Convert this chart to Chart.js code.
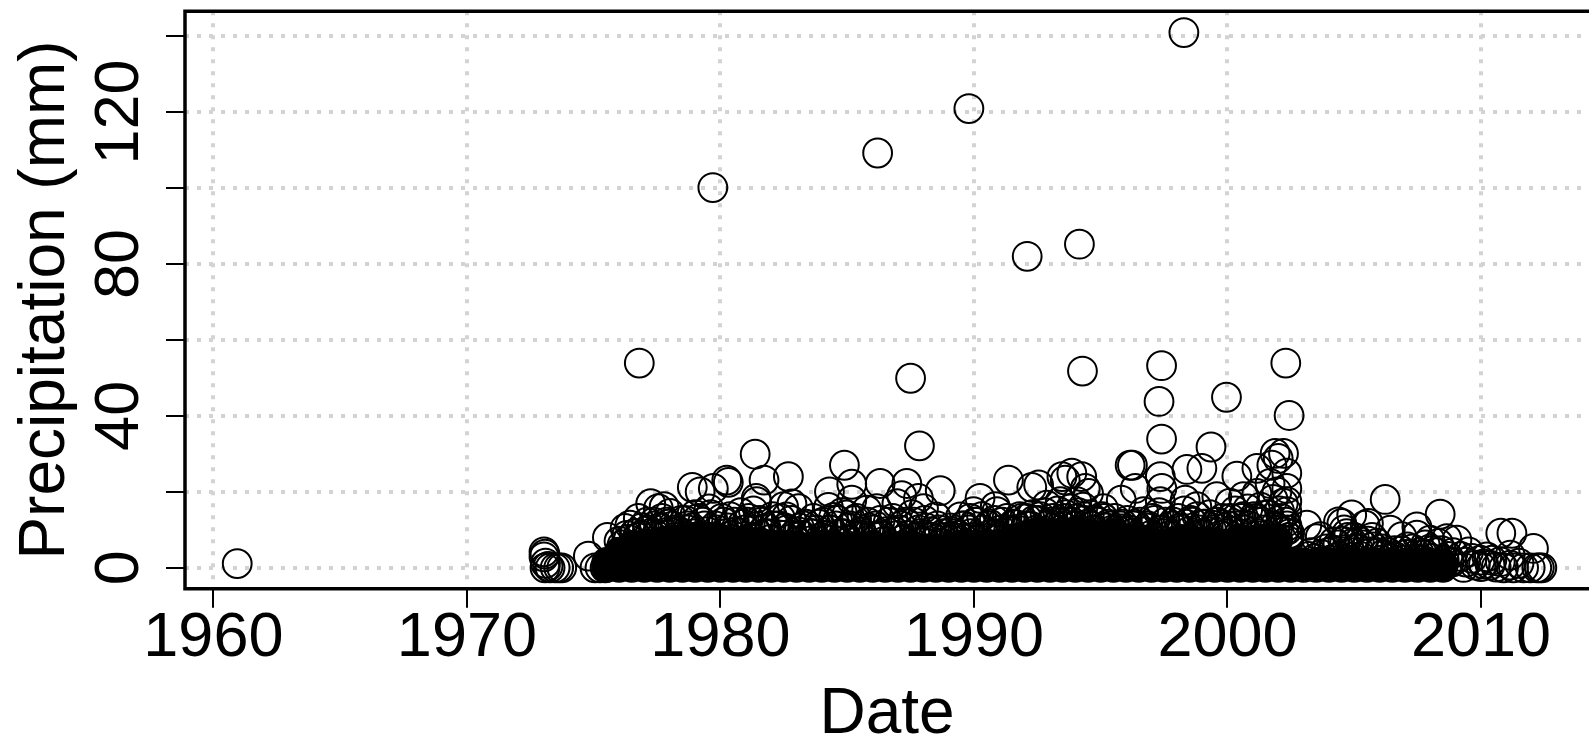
<!DOCTYPE html>
<html>
<head>
<meta charset="utf-8">
<title>Precipitation</title>
<script src="https://cdn.jsdelivr.net/npm/chart.js@4"></script>
<style>
html,body{margin:0;padding:0;background:#fff;overflow:hidden}
canvas{display:block}
</style>
</head>
<body>
<canvas id="precipChart" width="1589" height="738"></canvas>
<script>
// readable circles (same count per line in both arrays)
const pointDates = [
1960.94,1976.8,1979.7,1986.2,1989.8,1998.28,1992.1,1994.16,1994.28,1987.5,
1987.85,1997.4,1997.3,1997.4,1999.96,2002.3,2002.43,1981.37,1999.35,2003.13,
1973.04,1973.08,1973.04,1973.08,1973.28,1973.48,1973.62,1973.74,1973.1,1973.2,
1974.79,1975.05,1975.25,1975.45,1975.54,1976.24,1976.43,1976.76,1977.25,1977.78,
1977.55,1978.01,1978.89,1979.2,1979.72,1980.25,1980.31,1981.72,1982.68,1981.41,
1981.43,1982.82,1982.49,1983.08,1984.89,1984.3,1985.18,1985.18,1984.26,1984.46,
1986.3,1987.35,1987.15,1987.81,1988.67,1986.96,1988.01,1986.17,1985.77,1990.24,
1991.36,1992.28,1992.55,1989.98,1990.84,1990.9,1989.46,1992.09,1988.5,1989.85,
1983.67,1982.6,1984.98,1993.47,1993.86,1994.25,1993.6,1994.52,1994.39,1993.4,
1995.11,1995.81,1996.16,1996.25,1996.36,1997.35,1997.41,1997.35,1996.69,1998.4,
1998.99,1998.33,1999.58,2000.37,2001.16,2001.88,2002.21,2002,2001.75,2002.34,
2002.34,2002.34,2002.34,2001.68,2000.63,2000.1,1998.79,2001.16,1992.87,1994.06,
2006.22,2008.39,2004.9,2004.38,2004.51,2005.56,2005.43,2006.42,2007.47,2007.47,
2009.05,2008.32,2012.07,2010.78,2011.22,2009.51,2010.23,2009.97,2010.36,2009.31,
2009.77,2011.15,2010.76,2012.2,2012.3,2012.4,2011.94,2011.68,2011.28,2010.89,
2011.15,2003.66,2003.5,2006.88,2008.65,2007.99,2010.43,2004.7,2005,2005.9,
2003.3,2003.9,2004.2,2004.6,2005.2,2005.7,2006.1,2006.6,2007.1,2007.8,
2008.1,2008.9,2009.2,2008.75,2009.4,2009.65,2010,2010.1,2010.6,2011.5,
1976,1976.3,1976.6,1976.9,1977.1,1977.4,1977.7,1977.95,1978.2,1978.45,
1978.7,1979,1979.3,1979.55,1979.8,1980.05,1980.3,1980.55,1980.8,1981.05,
1981.3,1981.55,1981.8,1982.05,1982.3,1982.55,1982.8,1983.05,1983.3,1983.55,
1983.8,1984.05,1984.3,1984.55,1984.8,1985.05,1985.3,1985.55,1985.8,1986.05,
1986.3,1986.55,1986.8,1987.05,1987.3,1987.55,1987.8,1988.05,1988.3,1988.55,
1988.8,1989.05,1989.3,1989.55,1989.8,1990.05,1990.3,1990.55,1990.8,1991.05,
1991.3,1991.55,1991.8,1992.05,1992.3,1992.55,1992.8,1993.05,1993.3,1993.55,
1993.8,1994.05,1994.3,1994.55,1994.8,1995.05,1995.3,1995.55,1995.8,1996.05,
1996.3,1996.55,1996.8,1997.05,1997.3,1997.55,1997.8,1998.05,1998.3,1998.55,
1998.8,1999.05,1999.3,1999.55,1999.8,2000.05,2000.3,2000.55,2000.8,2001.05,
2001.3,2001.55,2001.8,2002.05,2002.3,2002.45,2002.4,2002.35,2002.2,2001.95,
1976.12,1976.37,1976.62,1976.87,1977.12,1977.37,1977.62,1977.87,1978.12,1978.37,
1978.62,1978.87,1979.12,1979.37,1979.62,1979.87,1980.12,1980.37,1980.62,1980.87,
1981.12,1981.37,1981.62,1981.87,1982.12,1982.37,1982.62,1982.87,1983.12,1983.37,
1983.62,1983.87,1984.12,1984.37,1984.62,1984.87,1985.12,1985.37,1985.62,1985.87,
1986.12,1986.37,1986.62,1986.87,1987.12,1987.37,1987.62,1987.87,1988.12,1988.37,
1988.62,1988.87,1989.12,1989.37,1989.62,1989.87,1990.12,1990.37,1990.62,1990.87,
1991.12,1991.37,1991.62,1991.87,1992.12,1992.37,1992.62,1992.87,1993.12,1993.37,
1993.62,1993.87,1994.12,1994.37,1994.62,1994.87,1995.12,1995.37,1995.62,1995.87,
1996.12,1996.37,1996.62,1996.87,1997.12,1997.37,1997.62,1997.87,1998.12,1998.37,
1998.62,1998.87,1999.12,1999.37,1999.62,1999.87,2000.12,2000.37,2000.62,2000.87,
2001.12,2001.37,2001.62,2001.87,2002.12,2002.37,
1976.72,1977.22,1977.47,1977.97,1978.22,1978.72,1978.97,1979.47,1979.72,1980.22,
1980.47,1980.97,1981.22,1981.72,1981.97,1982.47,1982.72,1983.22,1983.47,1983.97,
1984.22,1984.72,1984.97,1985.47,1985.72,1986.22,1986.47,1986.97,1987.22,1987.72,
1987.97,1988.47,1988.72,1989.22,1989.47,1989.97,1990.22,1990.72,1990.97,1991.47,
1991.72,1992.22,1992.47,1992.97,1993.22,1993.72,1993.97,1994.47,1994.72,1995.22,
1995.47,1995.97,1996.22,1996.72,1996.97,1997.47,1997.72,1998.22,1998.47,1998.97,
1999.22,1999.72,1999.97,2000.47,2000.72,2001.22,2001.47,2001.97,2002.22,2002.42,
2003.2,2003.45,2003.7,2003.95,2004.15,2004.35,2004.55,2004.75,2004.95,2005.15,
2005.35,2005.55,2005.75,2005.95,2006.15,2006.35,2006.6,2006.85,2007.05,2007.3,
2007.55,2007.8,2008,2008.2,2008.45,2008.7,2003.6,2004.05,2004.45,2004.85,
2005.25,2005.65,2006.05,2006.45,2006.95,2007.4,2007.7,2008.05,2008.55,2008.85
];
const pointPrecip = [
1.1,53.9,100.1,109.2,120.9,140.9,82,85.2,51.8,49.9,
32.1,53.2,43.8,33.9,44.9,53.9,40.1,29.9,31.8,11.2,
4.2,3.6,2.9,0,0,0,0,0,1.2,0.4,
3.1,0,0,0,8,10.4,11.2,13,16.9,16.1,
15.6,14.3,21.2,20,20.9,23.1,22.5,23.1,24,18.3,
17.4,16.8,16.1,15.6,27,20,22,17.8,15.9,13.3,
22.2,22.2,19,18.3,20.3,16.9,15.6,15.6,15.2,18.3,
23.1,21.2,21.8,14.8,16.1,14.8,13.4,13,13.4,13,
13,13.4,13.9,24,24.9,24,23.1,19.6,20.9,17.4,
15.6,17.8,27,27,20.9,24,20.9,17.4,14.8,25.9,
26.2,17.8,18.7,24.1,26.2,30.1,30.1,28.8,27,24.9,
20.9,17.4,14.8,22.2,18.7,17,16.1,19.6,16.5,17.4,
18,14.1,13.9,12.1,11.7,11.7,11.2,9.9,10.8,8.6,
7.3,6.4,5.1,9.1,9.1,4.2,2.9,2,0.7,0.1,
0.7,0.7,1.6,0,0,0,0,0,0,0,
3.3,8.2,7.7,8.2,7.7,7.3,2,9,8,6.5,
4,5,6.8,10,7,8,5,4.5,5.5,6,
4.5,4,3,1.5,1.5,2.5,0.3,1,0.2,1.2,
7,8.5,9,10.5,12,11,13,11.5,10,12.5,
11,14,12,15.5,11,13,10.5,12,14.5,12,
15,12.5,10.5,13.5,11,10.5,12.5,9.5,11,9,
10,12,10,11,14.5,10.5,12.5,9.5,12,10,
12.5,9.5,13,10,12,14,10,12.5,9.5,11,
9,10.5,9,11,10,12,13.5,11,12.5,10,
13,11.5,13.5,11,14,12.5,14.5,12,15,13,
15.5,13,16,14,12.5,13.5,11.5,13,11,12.5,
11,12,10.5,13,14.5,12,11,13,15,12.5,
13.5,11.5,14,12,13,11,15,13,15.5,13.5,
16,14,18,15,12,9,7,11,17,20,
6,7.5,9,8.5,10,12,10.5,12,11,9.5,
12.5,10.5,13,11,14,10,12,13.5,9.5,11.5,
13,10,12,9,11,13,10,8.5,10.5,11.5,
9,11.5,8.5,10,12.5,9,11,13,8.5,10.5,
11,8.5,12,9.5,11,8.5,12,9,10.5,8,
10,8,9.5,8.5,11,9,12,10,11.5,9,
12,10,11.5,13,11,12.5,13.5,11,13,12,
14,12,14.5,12.5,11,12,13,11,10,11.5,
10,11.5,9.5,11,12.5,10,9.5,12,10.5,11.5,
12,10,11.5,10,12,10.5,13,11,13.5,11,
13,12,14,11,13,10,
8,9,8.5,9.5,8,10,9,9.5,8,9,
8.5,10,8,9,7.5,8.5,7.5,8.5,7,8,
7.5,9,7.5,8.5,7,8,7,8.5,7.5,8,
7,7.5,6.5,8,7,8,7.5,9,8,9.5,
10,11,10,11.5,11,12,11,11.5,10,10.5,
10,9.5,9,9.5,8.5,9,8.5,10,9.5,9,
9.5,8.5,9,9,10,9,10,10,9.5,8,
3,2.5,3.5,4,4.5,6,7,8,6.5,5,
6,7,5.5,4,3.5,4,3,4.5,3.5,5,
4,3.5,5,4,4.5,3,1.5,2,3,4,
3,4,2,2.5,2,2.5,2,2.5,2,1.5
];

// the solid black part, where the circles can no longer be told apart
const massDates = [
1975.5,1976,1976.5,1977,1977.5,1978,1978.5,1979,1979.5,1980,
1980.5,1981,1981.5,1982,1982.5,1983,1983.5,1984,1984.5,1985,
1985.5,1986,1986.5,1987,1987.5,1988,1988.5,1989,1989.5,1990,
1990.5,1991,1991.5,1992,1992.5,1993,1993.5,1994,1994.5,1995,
1995.5,1996,1996.5,1997,1997.5,1998,1998.5,1999,1999.5,2000,
2000.5,2001,2001.5,2002,2002.5,2003,2003.5,2004,2004.5,2005,
2005.5,2006,2006.5,2007,2007.5,2008,2008.5
];
const massTop = [
1.5,4.2,6,6.4,6.8,7.3,7.7,8.2,8.2,7.7,
6.8,7.3,6.8,6,6,6,5.5,6,6,5.5,
5.5,6,5,5.5,6,5,5,5,6,6,
6.4,6.4,7.7,8.6,9.5,9,9.5,9.5,9,8.6,
9,7.7,7.7,6.8,6.4,7.3,7.7,6.8,6.8,6.4,
7.7,7.3,7.7,7.3,1.5,1.4,1.4,1.5,1.5,1.5,
1.5,1.4,1.4,1.4,1.4,1.3,1
];
const massMiddle = [
0.5,2,3,3.2,3.4,3.6,3.8,4,4,3.8,
3.4,3.6,3.4,3,3,3,2.8,3,3,2.8,
2.8,3,2.5,2.8,3,2.5,2.5,2.5,3,3,
3.2,3.2,3.8,4.3,4.7,4.5,4.7,4.7,4.5,4.3,
4.5,3.8,3.8,3.4,3.2,3.6,3.8,3.4,3.4,3.2,
3.8,3.6,3.8,3.6,0.7,0.7,0.7,0.7,0.7,0.7,
0.7,0.7,0.7,0.7,0.7,0.6,0.5
];
const massBase = [
0,0,0,0,0,0,0,0,0,0,
0,0,0,0,0,0,0,0,0,0,
0,0,0,0,0,0,0,0,0,0,
0,0,0,0,0,0,0,0,0,0,
0,0,0,0,0,0,0,0,0,0,
0,0,0,0,0,0,0,0,0,0,
0,0,0,0,0,0,0
];

const xTicks = [1960,1970,1980,1990,2000,2010];
const yTicks = [0,20,40,60,80,100,120,140];
const yTickLabels = [0,40,80,120];

function toPoints(xs,ys){
    return xs.map((x,i)=>({x:x,y:ys[i]}));
}

// R style box: left, top and bottom only, the right side runs off the image
const boxPlugin = {
    id:"box",
    afterDatasetsDraw(chart){
        const a = chart.chartArea;
        const ctx = chart.ctx;
        ctx.save();
        ctx.strokeStyle = "#000";
        ctx.lineWidth = 3.5;
        ctx.lineJoin = "miter";
        ctx.beginPath();
        ctx.moveTo(a.right+5,a.top);
        ctx.lineTo(a.left,a.top);
        ctx.lineTo(a.left,a.bottom);
        ctx.lineTo(a.right+5,a.bottom);
        ctx.stroke();
        ctx.restore();
    }
};

const tickFont = {family:"'Liberation Sans'",size:63};
const titleFont = {family:"'Liberation Sans'",size:64};

// the labels would otherwise push the plot area in from the edges
function noPadding(axis){
    axis.paddingTop = 0;
    axis.paddingBottom = 0;
    axis.paddingLeft = 0;
    axis.paddingRight = 0;
}

new Chart(document.getElementById("precipChart"),{
    type:"scatter",
    data:{
        datasets:[
            {data:toPoints(massDates,massBase),pointRadius:15,pointBackgroundColor:"#000",pointBorderWidth:0},
            {data:toPoints(massDates,massMiddle),pointRadius:15,pointBackgroundColor:"#000",pointBorderWidth:0},
            {data:toPoints(massDates,massTop),pointRadius:15,pointBackgroundColor:"#000",pointBorderWidth:0},
            {data:toPoints(pointDates,pointPrecip),pointRadius:14.4,pointBackgroundColor:"rgba(0,0,0,0)",pointBorderColor:"#000",pointBorderWidth:2}
        ]
    },
    options:{
        responsive:false,
        animation:false,
        events:[],
        layout:{autoPadding:false,padding:{top:11.3,left:0,right:0,bottom:0}},
        plugins:{legend:{display:false},tooltip:{enabled:false}},
        scales:{
            x:{
                type:"linear",
                min:1958.88,
                max:2014.26,
                afterBuildTicks(axis){axis.ticks = xTicks.map(v=>({value:v}));},
                afterFit(axis){axis.height = 149.3;noPadding(axis);},
                grid:{color:"#d3d3d3",lineWidth:4,tickColor:"#000",tickWidth:2,tickLength:19},
                border:{display:false,dash:[4,8]},
                ticks:{
                    autoSkip:false,maxRotation:0,minRotation:0,padding:-7,color:"#000",font:tickFont,
                    callback:v=>String(v)
                },
                title:{display:true,text:"Date",color:"#000",font:titleFont,padding:{top:0,bottom:-16}}
            },
            y:{
                type:"linear",
                min:-5.5,
                max:146.5,
                afterBuildTicks(axis){axis.ticks = yTicks.map(v=>({value:v}));},
                afterFit(axis){axis.width = 185;noPadding(axis);},
                grid:{color:"#d3d3d3",lineWidth:4,tickColor:"#000",tickWidth:2,tickLength:19},
                border:{display:false,dash:[4,8]},
                ticks:{
                    autoSkip:false,minRotation:90,maxRotation:90,crossAlign:"center",padding:-7,color:"#000",font:tickFont,
                    callback:v=>yTickLabels.includes(v)?String(v):""
                },
                title:{display:true,text:"Precipitation (mm)",color:"#000",font:titleFont,padding:{top:8,bottom:0}}
            }
        }
    },
    plugins:[boxPlugin]
});
</script>
</body>
</html>
